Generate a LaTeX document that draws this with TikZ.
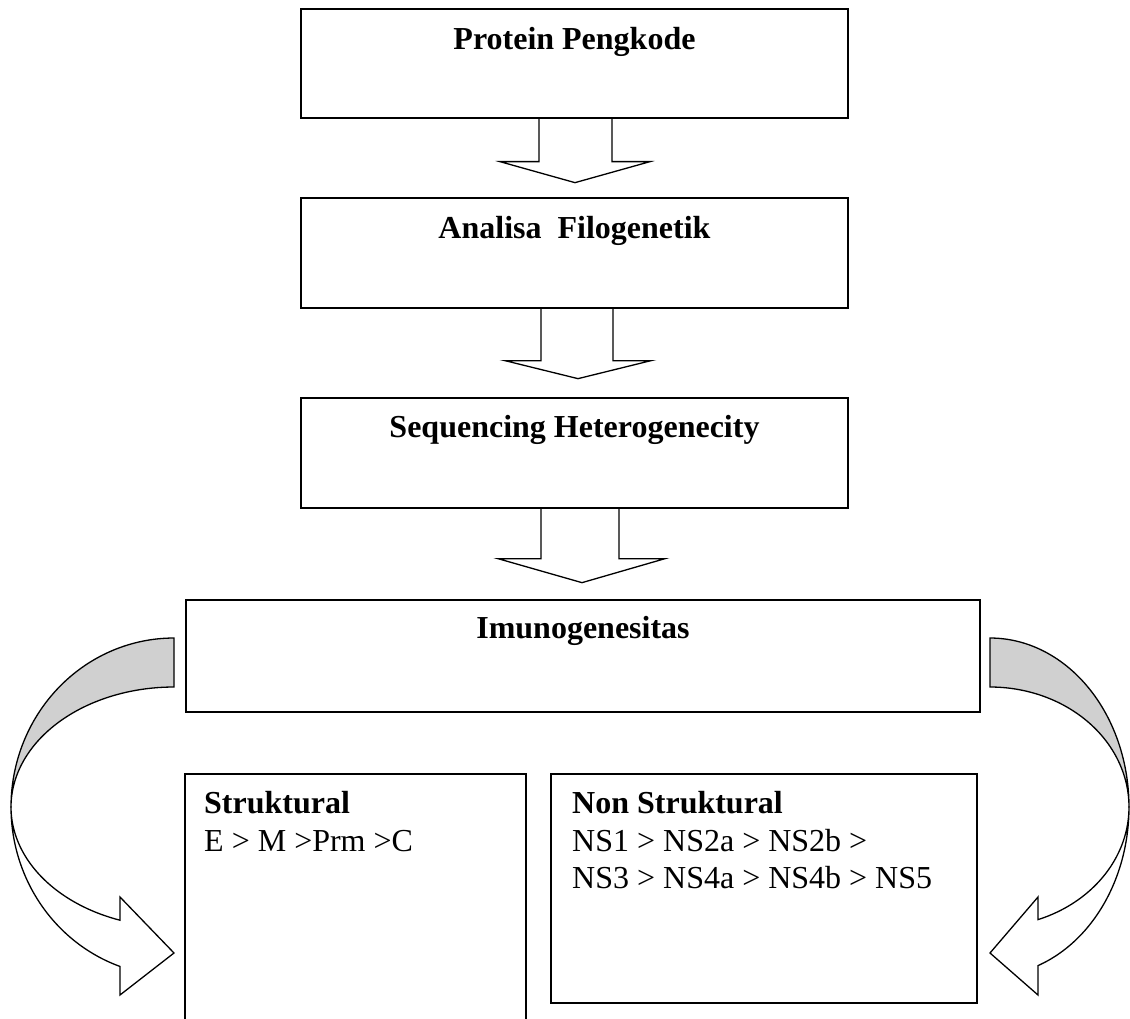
\documentclass[tikz,border=0pt]{standalone}
\usepackage{fontspec}
\setmainfont{Liberation Serif}
\usetikzlibrary{calc}
\definecolor{bandgray}{RGB}{208,208,208}
\begin{document}
\begin{tikzpicture}[x=1pt,y=-1pt,
  box/.style={draw, line width=1.3pt, inner sep=0pt},
  title/.style={font=\bfseries\fontsize{32}{38}\selectfont, inner sep=0pt, anchor=base},
  body/.style={font=\fontsize{32}{38}\selectfont, inner sep=0pt, anchor=base west},
  bodyb/.style={font=\bfseries\fontsize{32}{38}\selectfont, inner sep=0pt, anchor=base west},
  blockarrow/.style={draw, line width=1.3pt, line join=miter},
  curved/.style={draw, line width=1.3pt, fill=white, line join=miter},
  band/.style={draw, line width=1.3pt, fill=bandgray}]
\useasboundingbox (0,0) rectangle (1130,1019);

% main boxes
\node[box, minimum width=547pt, minimum height=109pt] (b1) at (574.5,63.5) {};
\node[box, minimum width=547pt, minimum height=110pt] (b2) at (574.5,253) {};
\node[box, minimum width=547pt, minimum height=110pt] (b3) at (574.5,453) {};
\node[box, minimum width=794pt, minimum height=112pt] (b4) at (583,656) {};
\node[box, minimum width=341pt, minimum height=266pt] (bs) at (355.5,907) {};
\node[box, minimum width=426pt, minimum height=229pt] (bn) at (764,888.5) {};

% titles
\node[title] (t1) at ($(b1.north)+(0,41)$) {Protein Pengkode};
\node[title] (t2) at ($(b2.north)+(0,41)$) {Analisa\ \ Filogenetik};
\node[title] (t3) at ($(b3.north)+(0,40)$) {Sequencing Heterogenecity};
\node[title] (t4) at ($(b4.north)+(0,39)$) {Imunogenesitas};

% bottom box texts
\node[bodyb] (s1) at (204,813) {Struktural};
\node[body] (s2) at (204,851) {E > M >Prm >C};
\node[bodyb] (n1) at (572,813) {Non Struktural};
\node[body] (n2) at (572,851) {NS1 > NS2a > NS2b >};
\node[body] (n3) at (572,888) {NS3 > NS4a > NS4b > NS5};

% straight block arrows
\draw[blockarrow] ($(b1.south)+(-35.5,0)$) -- ($(b1.south)+(-35.5,43)$) -- ($(b1.south)+(-74.5,43)$)
  -- ($(b1.south)+(0.5,64)$) -- ($(b1.south)+(75.5,43)$) -- ($(b1.south)+(37.5,43)$) -- ($(b1.south)+(37.5,0)$);
\draw[blockarrow] ($(b2.south)+(-33.5,0)$) -- ($(b2.south)+(-33.5,52)$) -- ($(b2.south)+(-69.5,52)$)
  -- ($(b2.south)+(3.5,70)$) -- ($(b2.south)+(76.5,52)$) -- ($(b2.south)+(38.5,52)$) -- ($(b2.south)+(38.5,0)$);
\draw[blockarrow] ($(b3.south)+(-33.5,0)$) -- ($(b3.south)+(-33.5,50)$) -- ($(b3.south)+(-76.5,50)$)
  -- ($(b3.south)+(7.5,74)$) -- ($(b3.south)+(90.5,50)$) -- ($(b3.south)+(44.5,50)$) -- ($(b3.south)+(44.5,0)$);

% left curved arrow
\filldraw[band] plot[domain=90:180,samples=60] ({174+163*cos(\x)},{807-169*sin(\x)})
  -- plot[domain=180:90,samples=60] ({174+163*cos(\x)},{807-120*sin(\x)}) -- cycle;
\filldraw[curved] plot[domain=180:250.65,samples=50] ({174+163*cos(\x)},{807-169*sin(\x)})
  -- (120,995) -- (174,953) -- (120,897)
  -- plot[domain=250.65:180,samples=50] ({174+163*cos(\x)},{807-120*sin(\x)}) -- cycle;

% right curved arrow
\filldraw[band] plot[domain=90:0,samples=60] ({990+139*cos(\x)},{807-169*sin(\x)})
  -- plot[domain=0:90,samples=60] ({990+139*cos(\x)},{807-120*sin(\x)}) -- cycle;
\filldraw[curved] plot[domain=0:-69.8,samples=50] ({990+139*cos(\x)},{807-169*sin(\x)})
  -- (1038,995) -- (990,953) -- (1038,897)
  -- plot[domain=-69.8:0,samples=50] ({990+139*cos(\x)},{807-120*sin(\x)}) -- cycle;
\end{tikzpicture}
\end{document}
